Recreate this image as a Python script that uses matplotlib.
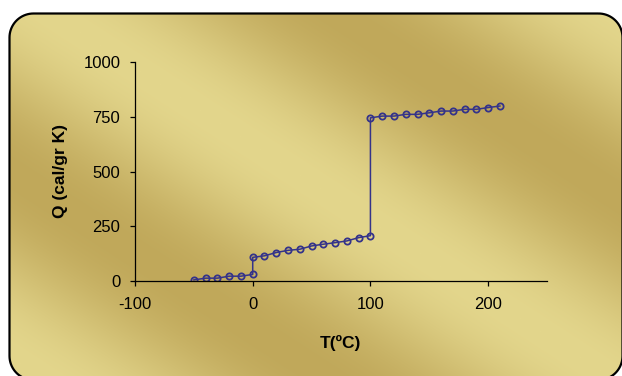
import numpy as np
import matplotlib
matplotlib.use('Agg')
import matplotlib.pyplot as plt
from matplotlib.patches import Polygon

plt.rcParams['font.family'] = ['Liberation Sans', 'DejaVu Sans']
plt.rcParams['axes.unicode_minus'] = False

# heating curve: ice -> water -> steam
T = [-50, -40, -30, -20, -10, 0,
     0, 10, 20, 30, 40, 50, 60, 70, 80, 90, 100,
     100, 110, 120, 130, 140, 150, 160, 170, 180, 190, 200, 210]
Q = [5, 13, 13, 22, 22, 30,
     108, 115, 130, 140, 145, 160, 168, 175, 183, 198, 207,
     745, 753, 753, 761, 761, 768, 776, 776, 784, 784, 792, 799]
xticks = [-100, 0, 100, 200]
yticks = [0, 250, 500, 750, 1000]

W, H = 622, 376
fig = plt.figure(figsize=(W / 100, H / 100), dpi=100)
fig.patch.set_facecolor('white')

# gold backdrop with diagonal streaks, inside a rounded frame (pixel coords, y down)
bg = fig.add_axes([0, 0, 1, 1])
bg.set_xlim(0, W)
bg.set_ylim(H, 0)
bg.axis('off')
yy, xx = np.mgrid[0:H, 0:W]
p = -0.65 * xx + yy
b = 0.5 + 0.5 * np.cos(2 * np.pi * (p + 20) / 370)
light = np.array([227, 214, 140]) / 255
dark = np.array([192, 168, 90]) / 255
img = dark + (light - dark) * b[..., None]


def rounded(x0, y0, x1, y1, r):
    pts = []
    for cx, cy, a0 in [(x1 - r, y0 + r, -90), (x1 - r, y1 - r, 0),
                       (x0 + r, y1 - r, 90), (x0 + r, y0 + r, 180)]:
        a = np.radians(np.linspace(a0, a0 + 90, 20))
        pts += list(zip(cx + r * np.cos(a), cy + r * np.sin(a)))
    return pts


frame = Polygon(rounded(9.5, 13.5, 622.5, 380, 24), closed=True, facecolor='none',
                edgecolor='black', lw=1.6)
im = bg.imshow(img, extent=(0, W, H, 0), aspect='auto', interpolation='bilinear')
bg.add_patch(frame)
im.set_clip_path(frame)

ax = fig.add_axes([135 / W, 1 - 281 / H, 412 / W, 219 / H])
ax.patch.set_alpha(0)
col = '#34338a'
ax.plot(T, Q, color=col, lw=1.1, marker='o', ms=4.5, mfc='none', mec=col, mew=1.3)
ax.set_xlim(-100, 250)
ax.set_ylim(0, 1000)
ax.set_xticks(xticks)
ax.set_yticks(yticks)
for s in ['top', 'right']:
    ax.spines[s].set_visible(False)
for s in ['left', 'bottom']:
    ax.spines[s].set_linewidth(0.9)
ax.tick_params(direction='out', length=3.6, width=0.9, labelsize=12)
ax.tick_params(axis='x', pad=8)
ax.tick_params(axis='y', pad=7)
ax.set_xlabel('T(ºC)', fontsize=12.5, fontweight='bold', va='center')
ax.set_ylabel('Q (cal/gr K)', fontsize=12.5, fontweight='bold', va='center')
ax.xaxis.set_label_coords((340 - 135) / 412, (281 - 343) / 219)
ax.yaxis.set_label_coords((60 - 135) / 412, 0.5)

fig.savefig('out.png', dpi=100)
